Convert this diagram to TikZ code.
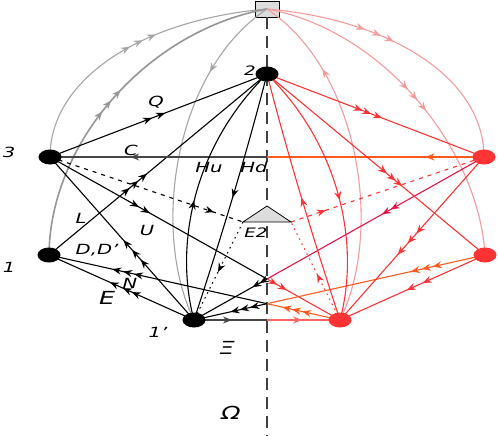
\documentclass[tikz,border=0pt]{standalone}
\usepackage{fontspec}
\setmainfont{DejaVu Sans}[FakeStretch=1.4]
\usetikzlibrary{arrows.meta,decorations.markings,shapes.geometric}
\definecolor{nred}{RGB}{255,51,51}
\definecolor{lred}{RGB}{245,155,155}
\definecolor{orng}{RGB}{255,90,30}
\definecolor{crim}{RGB}{230,20,70}
\definecolor{xired}{RGB}{255,100,100}
\definecolor{lgray}{RGB}{165,165,165}
\definecolor{mgray}{RGB}{150,150,150}
\definecolor{dgray}{RGB}{70,70,70}
\definecolor{boxg}{RGB}{221,221,221}
\pgfdeclarelayer{bg}
\pgfsetlayers{bg,main}
\begin{document}
\begin{tikzpicture}[x=1pt,y=-1pt,
  tp/.style={postaction={decorate,decoration={markings,mark=at position #1 with {\arrow{Stealth[length=9pt,width=7pt,inset=3pt]}}}}},
  bn/.style={ellipse,fill=black,minimum width=23pt,minimum height=15pt,inner sep=0pt},
  rn/.style={ellipse,fill=nred,minimum width=23pt,minimum height=15pt,inner sep=0pt},
  lbl/.style={font=\fontsize{14}{16}\selectfont\itshape,inner sep=0pt},
  sml/.style={font=\fontsize{13}{15}\selectfont\itshape,inner sep=0pt},
  big/.style={font=\fontsize{18}{20}\selectfont\itshape,inner sep=0pt},
  blk/.style={draw=black,line width=1.1pt},
  dgl/.style={draw=dgray,line width=1.1pt},
  redl/.style={draw=nred,line width=1.1pt},
  org/.style={draw=orng,line width=1.1pt},
  crm/.style={draw=crim,line width=1.1pt},
  xr/.style={draw=xired,line width=1.1pt},
  garc/.style={draw=lgray,line width=1.1pt},
  parc/.style={draw=lred,line width=1.1pt},
  axisln/.style={draw=black!75,line width=1.5pt,dash pattern=on 12pt off 7pt},
  dsh/.style={dash pattern=on 4pt off 5pt},
  dtt/.style={dash pattern=on 1.6pt off 4pt},
]
\useasboundingbox (0,0) rectangle (498,436);
% main nodes
\node[bn] (n3) at (50,157) {};
\node[bn] (n1) at (49,255) {};
\node[bn] (n2) at (267,74) {};
\node[bn] (n1p) at (194,320) {};
\node[rn] (r3) at (484,157) {};
\node[rn] (r1) at (485,255) {};
\node[rn] (r1p) at (340,320) {};
\coordinate (axT) at (267,0);
\coordinate (axB) at (267,436);
\coordinate (e2T) at (267,206);
\coordinate (e2L) at (243,222);
\coordinate (e2R) at (291,222);
\filldraw[fill=boxg,draw=black,line width=0.7pt] (e2L) -- (e2T) -- (e2R) -- cycle;
\coordinate (mC) at (intersection of r3--n3 and axT--axB);
\coordinate (mU) at (intersection of n3--r1p and axT--axB);
\coordinate (mR) at (intersection of r3--n1p and axT--axB);
\coordinate (mN) at (intersection of n1--r1p and axT--axB);
\coordinate (mM) at (intersection of r1--n1p and axT--axB);
\coordinate (mX) at (intersection of n1p--r1p and axT--axB);
% labels
\node[lbl] (t3) at (9,152) {3};
\node[lbl] (t1) at (9,267) {1};
\node[sml] (t2) at (250,71) {2};
\node[lbl] (t1p) at (158,332) {1'};
\node[big] (tXi) at (227,348) {Ξ};
\node[big] (tOm) at (231,413) {Ω};
\node[big] (tE) at (107,298) {E};
\node[lbl] (tN) at (130,283) {N};
\node[lbl] (tD) at (97,250) {D,D'};
\node[lbl] (tL) at (81,218) {L};
\node[lbl] (tU) at (147,230) {U};
\node[lbl] (tQ) at (156,102) {Q};
\node[lbl] (tC) at (131,150) {C};
\node[lbl] (tHu) at (209,167) {Hu};
\node[lbl] (tHd) at (254,167) {Hd};
\node[sml] (tE2) at (256,233) {E2};
\begin{pgfonlayer}{bg}
\node[draw=black,fill=boxg,minimum width=24pt,minimum height=16pt,inner sep=0pt,line width=0.7pt] (sq) at (267,9) {};
\draw[axisln] (sq.south) -- (axB);
% grey arcs (left)
\draw[garc,tp=0.5,tp=0.55,tp=0.6] (n3.center) .. controls (50,80) and (140,20) .. (sq.center);
\draw[garc,draw=mgray,line width=1.6pt,tp=0.44,tp=0.48,tp=0.52] (n1.center) .. controls (50,140) and (150,30) .. (sq.center);
\draw[garc,tp=0.25] (sq.center) .. controls (175,70) and (150,230) .. (n1p.center);
% pink arcs (right)
\draw[parc,tp=0.35,tp=0.41,tp=0.46] (sq.center) .. controls (394,20) and (484,80) .. (r3.center);
\draw[parc,tp=0.47,tp=0.51,tp=0.55] (sq.center) .. controls (384,30) and (479,150) .. (r1.center);
\draw[parc,tp=0.76] (r1p.center) .. controls (384,230) and (359,70) .. (sq.center);
% black edges
\draw[blk,tp=0.47,tp=0.53] (n3.center) -- (n2.center);
\draw[blk,tp=0.37,tp=0.41,tp=0.45] (n1.center) -- (n2.center);
\draw[dgl,tp=0.63] (mC) -- (n3.center);
\draw[org,tp=0.27] (r3.center) -- (mC);
\draw[blk,tp=0.41,tp=0.46] (n3.center) -- (mU);
\draw[redl,tp=0.14,tp=0.27] (mU) -- (r1p.center);
\draw[crm,tp=0.43,tp=0.47] (r3.center) -- (mR);
\draw[blk,tp=0.1,tp=0.2] (mR) -- (n1p.center);
\draw[blk,tp=0.37,tp=0.43,tp=0.49] (n1p.center) -- (n3.center);
\draw[blk,tp=0.43,tp=0.49,tp=0.58] (n1p.center) -- (n1.center);
\draw[blk,tp=0.61,tp=0.66,tp=0.71] (mN) -- (n1.center);
\draw[org,tp=0.52,tp=0.66,tp=0.79] (r1p.center) -- (mN);
\draw[org,tp=0.24,tp=0.29,tp=0.34] (r1.center) -- (mM);
\draw[blk,tp=0.23,tp=0.37,tp=0.5] (mM) -- (n1p.center);
\draw[dgl,tp=0.52] (n1p.center) -- (mX);
\draw[xr,tp=0.48] (mX) -- (r1p.center);
\draw[blk,tp=0.45] (n1p.center) .. controls (175,250) and (190,150) .. (n2.center);
\draw[blk,tp=0.5] (n2.center) .. controls (246,156) and (221,238) .. (n1p.center);
\draw[blk,dsh,tp=0.85] (n3.center) -- (e2L);
\draw[blk,dtt,tp=0.51] (e2L) -- (n1p.center);
% red edges (right)
\draw[redl,tp=0.44,tp=0.48,tp=0.53] (n2.center) -- (r3.center);
\draw[redl,tp=0.55,tp=0.59,tp=0.62] (n2.center) -- (r1.center);
\draw[redl,tp=0.47,tp=0.53,tp=0.6] (r3.center) -- (r1p.center);
\draw[redl,tp=0.43,tp=0.54] (r1.center) -- (r1p.center);
\draw[redl,tp=0.55] (n2.center) .. controls (344,150) and (359,250) .. (r1p.center);
\draw[redl,tp=0.5] (r1p.center) .. controls (313,238) and (288,156) .. (n2.center);
\draw[redl,dsh,tp=0.18] (e2R) -- (r3.center);
\draw[redl,dtt,tp=0.47] (r1p.center) -- (e2R);
\end{pgfonlayer}
\end{tikzpicture}
\end{document}
